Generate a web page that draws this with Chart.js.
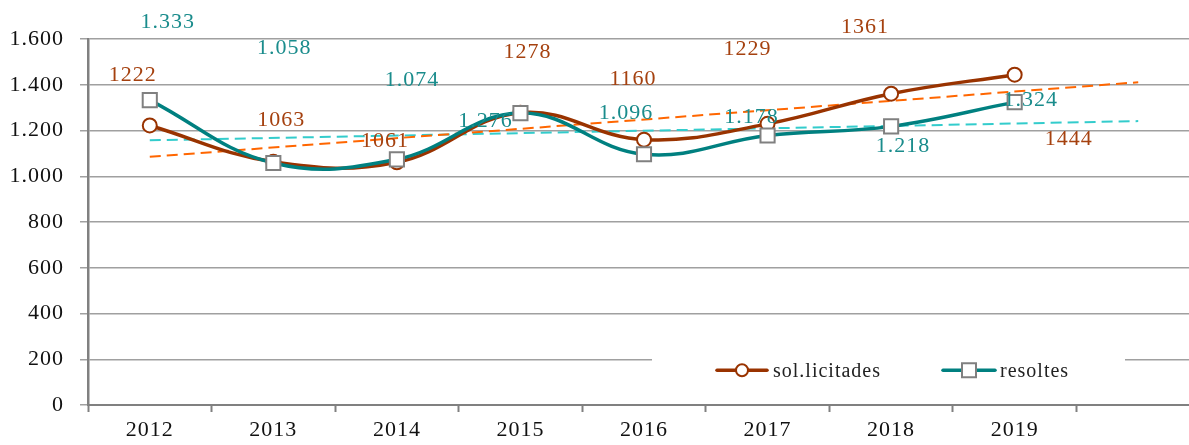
<!DOCTYPE html>
<html>
<head>
<meta charset="utf-8">
<script src="https://cdn.jsdelivr.net/npm/chart.js@4/dist/chart.umd.min.js"></script>
<style>
html,body{margin:0;padding:0;overflow:hidden;background:#fff;width:1189px;height:445px;}
#wrap{width:1212px;height:445px;}
#c{width:1212px;height:445px;display:block;}
</style>
</head>
<body>
<div id="wrap"><canvas id="c" width="1212" height="445"></canvas></div>
<script>
// ---- data ----
const years = ['2012','2013','2014','2015','2016','2017','2018','2019',''];
const solicitades = [1222, 1063, 1061, 1278, 1160, 1229, 1361, 1444];
const resoltes = [1333, 1058, 1074, 1276, 1096, 1178, 1218, 1324];
// linear trend lines (start 2012, end one period after 2019)
const trendSolicitades = [1085, null, null, null, null, null, null, null, 1411];
const trendResoltes = [1157, null, null, null, null, null, null, null, 1241];
const solLabels = ['1222','1063','1061','1278','1160','1229','1361','1444'];
const resLabels = ['1.333','1.058','1.074','1.276','1.096','1.178','1.218','1.324'];
const yTicks = [0, 200, 400, 600, 800, 1000, 1200, 1400, 1600];

// label offsets (px) relative to each point
const solOffsets = [[-17,-50],[8,-42],[-12,-21],[7,-60],[-11,-60],[-20,-75],[-26,-66],[54,65]];
const resOffsets = [[18,-78],[11,-115],[15,-79],[-35,8],[-18,-41],[-16,-18],[12,20],[16,-2]];

const FONT = 'Liberation Serif';
const BROWN = '#993300';
const BROWN_TXT = '#A5410F';
const TEAL = '#008080';
const TEAL_TXT = '#1A8C8C';

function fmt(v){ return v >= 1000 ? Math.floor(v/1000) + '.' + String(v%1000).padStart(3,'0') : String(v); }

const spacingPlugin = {
  id: 'spacing',
  beforeDraw(chart){ chart.ctx.letterSpacing = '1px'; }
};

const labelPlugin = {
  id: 'labels',
  afterDatasetsDraw(chart){
    const ctx = chart.ctx;
    ctx.save();
    ctx.font = '22px "' + FONT + '"';
    ctx.textAlign = 'center';
    ctx.textBaseline = 'middle';
    const draw = (dsIndex, labels, offsets, color) => {
      const meta = chart.getDatasetMeta(dsIndex);
      ctx.fillStyle = color;
      meta.data.forEach((pt, i) => {
        ctx.fillText(labels[i], pt.x + offsets[i][0], pt.y + offsets[i][1]);
      });
    };
    draw(1, solLabels, solOffsets, BROWN_TXT);
    draw(0, resLabels, resOffsets, TEAL_TXT);

    // legend box
    const y = chart.scales.y;
    const top = y.getPixelForValue(200) - 14;
    ctx.fillStyle = '#fff';
    ctx.fillRect(652, top, 473, 48);
    const ly = y.getPixelForValue(200) + 11;
    // sol.licitades
    ctx.strokeStyle = BROWN; ctx.lineWidth = 3.5; ctx.lineCap = 'round';
    ctx.beginPath(); ctx.moveTo(717, ly); ctx.lineTo(767, ly); ctx.stroke();
    ctx.beginPath(); ctx.arc(742, ly, 6, 0, Math.PI*2);
    ctx.fillStyle = '#fff'; ctx.fill(); ctx.lineWidth = 2; ctx.stroke();
    ctx.fillStyle = '#222'; ctx.textAlign = 'left';
    ctx.font = '20px "' + FONT + '"';
    ctx.fillText('sol.licitades', 773, ly + 1);
    // resoltes
    ctx.strokeStyle = TEAL; ctx.lineWidth = 3.5;
    ctx.beginPath(); ctx.moveTo(943, ly); ctx.lineTo(995, ly); ctx.stroke();
    ctx.fillStyle = '#fff'; ctx.strokeStyle = '#808080'; ctx.lineWidth = 2;
    ctx.fillRect(962, ly - 7, 14, 14); ctx.strokeRect(962, ly - 7, 14, 14);
    ctx.fillStyle = '#222';
    ctx.fillText('resoltes', 1000, ly + 1);
    ctx.restore();
  }
};

new Chart(document.getElementById('c'), {
  type: 'line',
  data: {
    labels: years,
    datasets: [
      {
        label: 'resoltes', data: resoltes, order: 1,
        borderColor: TEAL, borderWidth: 3.5, tension: 0.4,
        pointStyle: 'rect', pointRadius: 10, pointBorderWidth: 2,
        pointBackgroundColor: '#fff', pointBorderColor: '#808080',
        clip: false
      },
      {
        label: 'sol.licitades', data: solicitades, order: 2,
        borderColor: BROWN, borderWidth: 3.5, tension: 0.4,
        pointStyle: 'circle', pointRadius: 7, pointBorderWidth: 2,
        pointBackgroundColor: '#fff', pointBorderColor: BROWN,
        clip: false
      },
      {
        label: 'trend sol', data: trendSolicitades, order: 3, spanGaps: true,
        borderColor: '#FF6600', borderWidth: 2, borderDash: [11, 6],
        pointRadius: 0, tension: 0
      },
      {
        label: 'trend res', data: trendResoltes, order: 4, spanGaps: true,
        borderColor: '#33CCCC', borderWidth: 2, borderDash: [11, 6],
        pointRadius: 0, tension: 0
      }
    ]
  },
  options: {
    responsive: false,
    animation: false,
    layout: { padding: { top: 39, right: 0, left: 0, bottom: 0 } },
    plugins: { legend: { display: false }, tooltip: { enabled: false } },
    scales: {
      x: {
        offset: true,
        grid: { offset: true, drawOnChartArea: false, drawTicks: true, tickLength: 7, tickWidth: 2, tickColor: '#808080' },
        border: { color: '#808080', width: 2 },
        ticks: { color: '#111', font: { family: FONT, size: 22 }, padding: 5, maxRotation: 0, autoSkip: false },
        afterFit(s){ s.height = 40; }
      },
      y: {
        min: 0, max: 1600,
        afterBuildTicks(s){ s.ticks = yTicks.map(v => ({ value: v })); },
        grid: { color: '#a0a0a0', lineWidth: 1.5, tickLength: 8, tickColor: '#a0a0a0' },
        border: { color: '#808080', width: 2.5 },
        ticks: { color: '#111', font: { family: FONT, size: 22 }, padding: 16, callback: v => fmt(v) },
        afterFit(s){ s.width = 88; }
      }
    }
  },
  plugins: [spacingPlugin, labelPlugin]
});
</script>
</body>
</html>
